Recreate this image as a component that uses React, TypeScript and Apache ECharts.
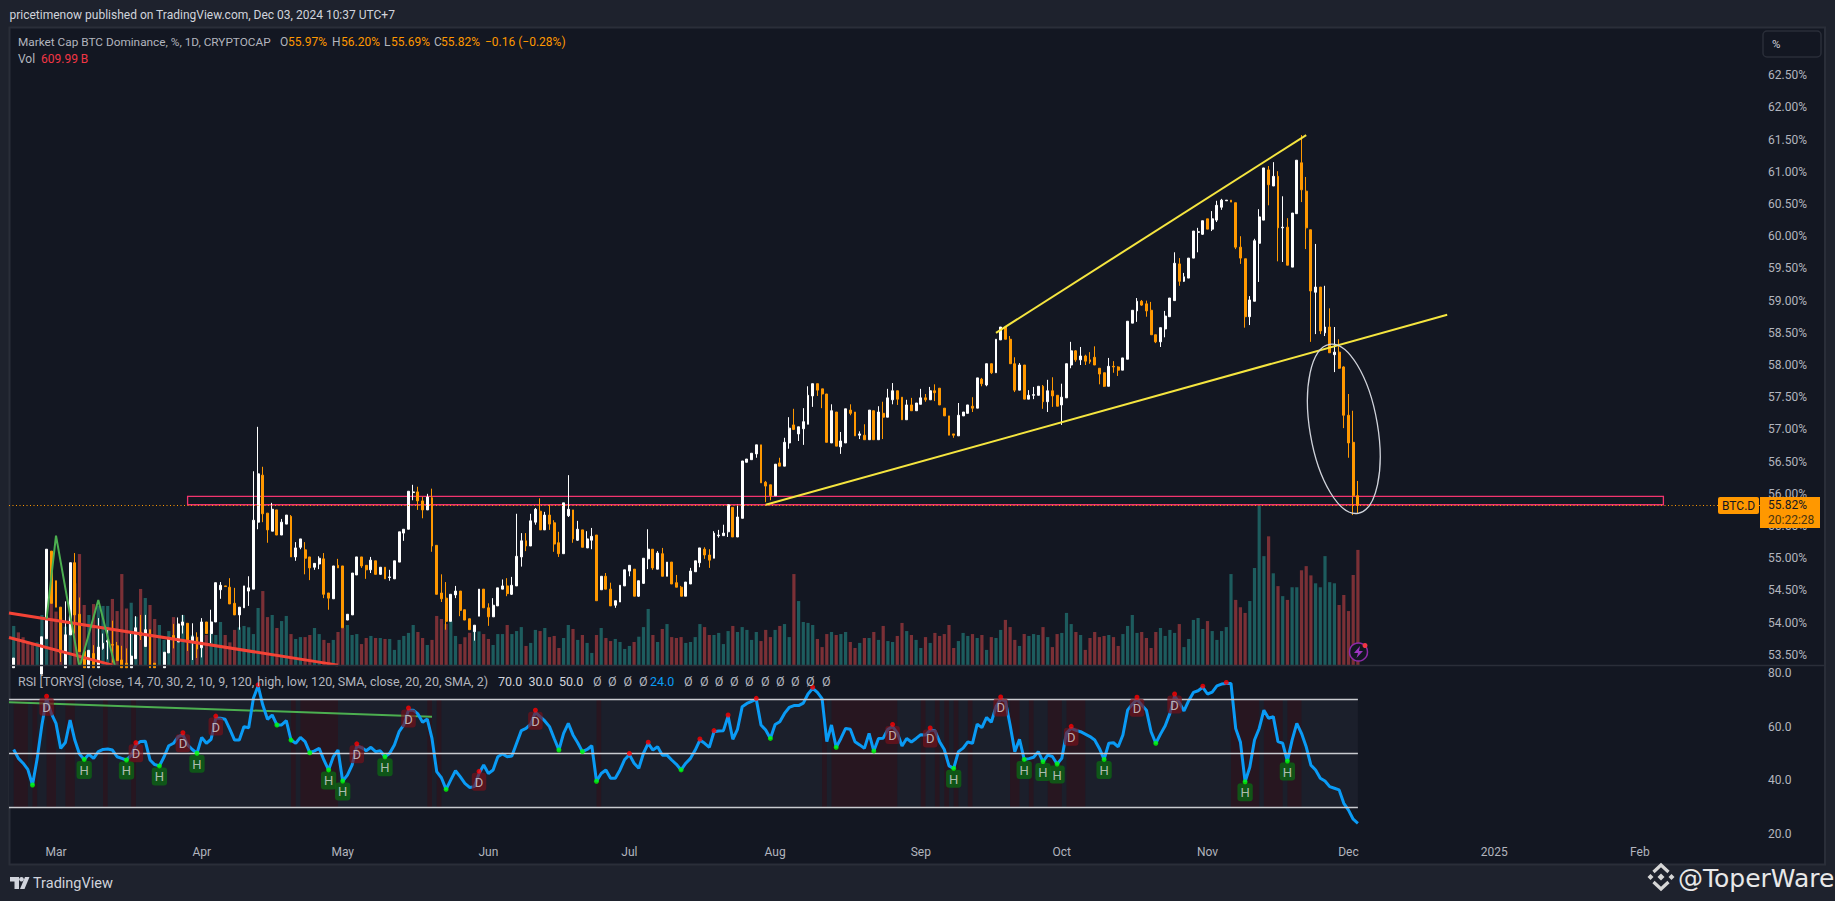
import React, { useEffect, useRef } from "react";
import * as echarts from "echarts";

// ---- day offsets are counted from 2024-03-01 ----
const N = null;
const firstDay = -10;
const lastAxisDay = 363;
const firstDataDay = -9;

const monthLabels: Record<string, string> = {
  "2024-03-01": "Mar", "2024-04-01": "Apr", "2024-05-01": "May", "2024-06-01": "Jun",
  "2024-07-01": "Jul", "2024-08-01": "Aug", "2024-09-01": "Sep", "2024-10-01": "Oct",
  "2024-11-01": "Nov", "2024-12-01": "Dec", "2025-01-01": "2025", "2025-02-01": "Feb",
};
const priceTicks = [53.5, 54, 54.5, 55, 55.5, 56, 56.5, 57, 57.5, 58, 58.5, 59, 59.5, 60, 60.5, 61, 61.5, 62, 62.5];
const rsiTicks = [20, 40, 60, 80];

// starts at day -9
const opens = [53.3, N, N, N, N, N, 53.2, 53.75, 55.11,
  54.65, 54.24, 53.3, 53.81, 54.93, 54.13, 53.55, 53.3, 53.52, 53.3,
  53.6, 53.7, 53.66, 53.64, 53.42, 53.37, 53.3, 53.44, 53.85, 53.63,
  53.89, 53.37, N, 53.3, 53.53, 53.8, 53.7, 53.96, 53.99, 53.72,
  53.77, 53.61, 54.01, 53.83, 54.01, 54.51, 54.57, 54.55, 54.30, 54.12,
  54.23, 54.49, 54.52, 55.56, 56.29, 55.70, 55.42, 55.75, 55.36, 55.53,
  55.65, 55.02, 55.17, 55.13, 55.02, 54.86, 54.91, 54.99, 54.46, 54.37,
  54.89, 54.88, 54.04, 54.12, 54.74, 55.02, 54.89, 54.82, 54.96, 54.75,
  54.86, 54.70, 54.68, 54.94, 55.39, 55.45, 56.02, 56.03, 55.89, 55.75,
  55.94, 55.20, 54.46, 54.38, 54.02, 54.43, 54.49, 54.20, 54.06, 53.86,
  54.10, 54.52, 54.23, 54.09, 54.26, 54.52, 54.57, 54.44, 54.57, 55.02,
  55.27, 55.19, 55.56, 55.73, 55.44, 55.67, 55.55, 55.24, 55.07, 55.66,
  55.75, 55.28, 55.44, 55.16, 55.28, 55.36, 54.51, 54.72, 54.52, 54.27,
  54.32, 54.57, 54.80, 54.83, 54.41, 54.61, 54.99, 55.14, 54.83, 55.07,
  54.72, 54.94, 54.62, 54.55, 54.41, 54.60, 54.79, 54.93, 55.14, 55.05,
  55.0, 55.35, 55.35, 55.41, 55.79, 55.33, 55.62, 56.49, 56.53, 56.62,
  56.76, 56.18, 56.14, 55.97, 56.48, 56.43, 56.79, 57.07, 56.93, 57.01,
  57.08, 57.52, 57.71, 57.63, 57.55, 56.79, 57.27, 56.73, 56.79, 57.30,
  57.27, 56.91, 56.91, 56.84, 57.29, 56.84, 57.25, 57.19, 57.46, 57.60,
  57.50, 57.15, 57.38, 57.29, 57.39, 57.49, 57.46, 57.60, 57.64, 57.33,
  57.21, 56.93, 56.90, 57.21, 57.25, 57.36, 57.33, 57.78, 57.69, 58.02,
  57.88, 58.39, 58.59, 58.40, 58.02, 57.61, 58.0, 57.47, 57.53, 57.53,
  57.67, 57.43, 57.60, 57.53, 57.38, 57.49, 58.0, 58.22, 58.08, 58.14,
  58.08, 58.12, 57.95, 57.88, 57.67, 57.98, 57.97, 57.92, 58.09, 58.65,
  58.84, 58.99, 58.95, 58.85, 58.47, 58.36, 58.56, 58.75, 59.0, 59.57,
  59.30, 59.35, 59.66, 60.06, 60.03, 60.27, 60.11, 60.25, 60.45, 60.55,
  60.56, 60.52, 59.83, 59.65, 58.75, 58.99, 59.89, 60.25, 61.03, 60.78,
  60.93, 60.13, 60.14, 59.52, 60.35, 61.14, 60.70, 60.10, 59.13, 59.21,
  58.50, 58.59, 58.16, 58.20, 57.97, 57.22, 56.80, 55.97];

const closes = [53.45, N, N, N, N, N, 53.78, 55.14, 54.30,
  54.24, 53.53, 53.81, 54.93, 54.12, 53.55, 53.3, 53.57, 53.3, 53.62,
  53.68, 53.72, 53.65, 53.41, 53.3, 53.3, 53.48, 53.92, 53.8, 53.89,
  53.3, 53.3, N, 53.54, 53.77, 53.75, 53.98, 54.01, 53.70, 53.78,
  53.59, 54.01, 53.83, 54.01, 54.62, 54.58, 54.56, 54.29, 54.12, 54.24,
  54.57, 54.54, 55.59, 56.31, 55.69, 55.44, 55.76, 55.36, 55.56, 55.67,
  55.02, 55.16, 55.30, 55.0, 54.85, 54.92, 55.0, 54.44, 54.38, 54.88,
  54.85, 53.92, 54.13, 54.77, 55.02, 54.88, 54.82, 54.97, 54.75, 54.86,
  54.68, 54.71, 54.96, 55.41, 55.45, 56.04, 56.03, 55.89, 55.75, 55.95,
  55.19, 54.44, 54.37, 54.02, 54.44, 54.49, 54.19, 54.04, 53.89, 53.96,
  54.52, 54.23, 54.09, 54.27, 54.54, 54.57, 54.45, 54.58, 55.03, 55.27,
  55.19, 55.58, 55.76, 55.44, 55.67, 55.53, 55.22, 55.07, 55.86, 55.76,
  55.30, 55.45, 55.17, 55.30, 55.34, 54.34, 54.72, 54.52, 54.26, 54.34,
  54.58, 54.82, 54.89, 54.41, 54.65, 55.0, 55.14, 54.85, 55.08, 54.72,
  54.94, 54.60, 54.55, 54.41, 54.63, 54.80, 54.96, 55.16, 55.05, 54.97,
  55.39, 55.36, 55.39, 55.83, 55.33, 55.64, 56.51, 56.54, 56.63, 56.76,
  56.17, 56.12, 55.97, 56.46, 56.43, 56.80, 57.02, 57.0, 57.04, 57.12,
  57.53, 57.71, 57.61, 57.55, 56.80, 57.29, 56.74, 56.82, 57.32, 57.25,
  56.90, 56.93, 56.84, 57.30, 56.84, 57.27, 57.19, 57.49, 57.60, 57.47,
  57.15, 57.38, 57.29, 57.41, 57.49, 57.46, 57.60, 57.57, 57.38, 57.21,
  56.91, 56.91, 57.22, 57.27, 57.38, 57.33, 57.80, 57.71, 58.02, 57.88,
  58.40, 58.59, 58.40, 58.02, 57.61, 58.0, 57.47, 57.53, 57.54, 57.67,
  57.43, 57.60, 57.52, 57.36, 57.50, 58.02, 58.22, 58.08, 58.14, 58.06,
  58.05, 58.0, 57.86, 57.67, 57.98, 57.97, 57.92, 58.11, 58.68, 58.85,
  58.99, 58.93, 58.84, 58.47, 58.36, 58.58, 58.76, 59.04, 59.58, 59.30,
  59.37, 59.66, 60.08, 60.07, 60.24, 60.11, 60.27, 60.48, 60.56, 60.56,
  60.53, 59.83, 59.66, 58.75, 59.01, 59.93, 60.30, 61.06, 60.80, 60.93,
  60.13, 60.14, 59.55, 60.36, 61.18, 60.72, 60.13, 59.15, 59.21, 58.53,
  58.59, 58.19, 58.20, 57.95, 57.22, 56.79, 55.97, 55.82];

// N = no wick above the body
const highs = [N, N, N, N, N, N, N, N, N,
  N, N, 54.33, N, 55.08, 54.39, N, N, 53.65, 54.07,
  53.83, 53.91, 54.03, 53.70, 53.64, 53.6, 53.83, 54.10, 54.12, 54.12,
  N, N, N, N, N, 53.98, 54.08, 54.12, N, 53.99,
  53.85, 54.07, N, 54.20, N, 54.63, N, 54.69, 54.54, N,
  N, 54.72, 56.35, 57.04, 56.42, N, 55.86, N, 55.61, N,
  55.67, 55.25, N, 55.25, N, N, 55.03, 55.08, N, N,
  54.99, N, N, N, N, N, N, 55.02, N, N,
  N, 54.82, N, N, N, N, 56.14, 56.11, 55.95, 56.0,
  56.08, N, 54.75, 54.63, N, 54.57, N, N, N, N,
  N, N, 54.30, 54.38, N, 54.67, 54.69, 54.71, 55.69, 55.39,
  55.39, 55.69, 55.78, 55.93, 55.72, 55.83, 55.59, 55.41, N, 56.29,
  N, 55.58, N, 55.42, 55.47, N, N, 54.77, 54.62, N,
  N, N, N, N, N, N, 55.45, N, 55.11, 55.16,
  N, N, 54.74, 54.57, N, 54.85, N, N, 55.17, 55.14,
  55.42, 55.44, 55.52, N, N, 55.83, N, N, N, N,
  N, 56.20, N, N, 56.56, 56.87, 57.19, 57.32, N, 57.33,
  57.67, N, N, N, N, 57.39, N, 56.96, N, 57.39,
  N, 56.97, 57.08, N, N, 57.36, 57.43, 57.63, 57.72, N,
  N, 57.46, 57.49, N, 57.63, 57.55, 57.66, 57.70, N, N,
  N, N, 57.41, N, N, 57.50, N, 57.80, N, N,
  N, N, N, 58.45, 58.12, 58.03, N, 57.61, 57.66, N,
  57.69, 57.77, 57.81, N, 57.71, N, 58.36, 58.23, 58.28, 58.16,
  58.20, 58.29, N, N, 58.11, 58.06, 57.98, N, N, N,
  59.04, 59.01, 59.0, 58.98, N, N, 58.84, N, 59.75, 59.66,
  59.43, N, N, 60.13, N, N, 60.39, 60.55, 60.58, N,
  N, N, 60.0, N, 59.07, 59.96, 60.42, N, 61.09, 61.15,
  61.01, 60.62, 60.28, N, N, 61.57, 60.92, N, 59.88, N,
  59.23, 58.88, 58.59, 58.40, 57.98, 57.55, 57.29, 56.20];

// N = no wick below the body
const lows = [N, N, N, N, N, N, N, N, N,
  N, 53.39, N, N, 53.83, N, N, N, N, N,
  53.58, 53.43, 53.38, N, N, N, N, N, 53.73, N,
  N, N, N, N, N, 53.6, N, 53.83, 53.56, 53.42,
  53.45, 53.46, N, 53.68, N, 54.37, N, N, N, 53.89,
  N, 54.26, N, 55.45, 55.56, 55.24, N, N, N, N,
  N, 54.96, 55.14, 54.75, 54.66, 54.82, 54.83, 54.38, 54.2, N,
  N, N, N, N, N, 54.85, 54.68, 54.77, N, 54.74,
  N, 54.65, N, N, 55.27, N, 55.90, 55.75, 55.62, N,
  55.10, N, 54.32, 53.89, N, 54.38, 54.10, N, N, 53.72,
  N, N, 53.95, N, N, N, 54.41, 54.43, N, 54.87,
  55.11, N, 55.52, N, N, 55.44, 55.10, 55.02, N, 55.64,
  55.24, 55.27, N, N, 55.14, N, N, N, N, 54.23,
  N, N, 54.72, N, 54.40, 54.60, 54.83, 54.82, N, N,
  N, N, N, N, N, N, N, 54.86, 54.99, 54.85,
  N, 55.32, N, 55.33, N, N, N, N, N, 56.56,
  N, 55.87, 55.9, N, N, N, 56.70, 56.99, 56.82, 56.76,
  N, 57.35, 57.52, 57.33, N, N, N, 56.62, N, 57.22,
  N, 56.85, N, N, N, N, 56.85, N, 57.39, 57.38,
  N, N, N, N, N, 57.43, N, 57.44, N, N,
  N, 56.87, N, N, N, 57.27, N, 57.67, 57.67, 57.86,
  N, N, N, N, 57.58, N, N, N, 57.47, N,
  57.32, 57.27, 57.35, N, 57.07, N, 57.95, 58.05, 58.0, 58.0,
  58.02, N, 57.70, 57.66, N, 57.88, 57.83, N, N, N,
  58.67, 58.92, 58.75, N, 58.34, 58.28, 58.43, N, N, 59.23,
  59.29, N, N, 59.75, 60.02, N, 60.08, 60.22, 60.41, N,
  N, 59.80, 59.57, 58.58, 58.62, N, 59.29, N, 60.48, N,
  59.61, 59.60, N, N, N, 60.53, 59.80, 58.36, 58.48, 58.48,
  58.45, N, 57.89, 57.94, 57.02, 56.56, 55.67, 55.69];

// billions, starts at day -9
const volumes = [207, 173, 147, 124, 106, 120, 265, 138, 336,
  283, 250, 203, 256, 433, 588, 318, 265, 323, 313,
  313, 313, 350, 286, 482, 300, 330, 256, 403, 355,
  318, 244, 212, 133, 180, 254, 212, 265, 150, 159,
  150, 194, 159, 186, 159, 228, 159, 120, 186, 200,
  207, 200, 164, 302, 392, 254, 265, 196, 233, 260,
  164, 138, 148, 148, 159, 196, 164, 133, 117, 133,
  175, 196, 212, 159, 164, 111, 143, 154, 143, 143,
  138, 138, 80, 133, 154, 170, 212, 175, 143, 106,
  133, 260, 244, 217, 233, 154, 111, 147, 171, 193,
  178, 164, 138, 106, 164, 164, 212, 164, 180, 201,
  101, 117, 186, 180, 196, 148, 154, 90, 143, 212,
  191, 133, 159, 117, 64, 159, 196, 143, 127, 138,
  122, 85, 101, 122, 150, 201, 297, 159, 122, 191,
  217, 148, 143, 148, 117, 122, 148, 217, 201, 159,
  159, 170, 111, 180, 207, 175, 201, 186, 133, 175,
  127, 186, 148, 186, 207, 217, 148, 482, 339, 228,
  223, 212, 138, 95, 164, 175, 159, 164, 175, 122,
  90, 117, 143, 143, 175, 133, 207, 127, 122, 154,
  223, 180, 159, 133, 90, 148, 117, 170, 154, 164,
  212, 90, 127, 170, 154, 164, 143, 159, 80, 148,
  143, 186, 239, 201, 133, 101, 164, 154, 164, 159,
  201, 148, 95, 164, 170, 276, 217, 175, 159, 80,
  143, 175, 148, 154, 159, 148, 101, 164, 207, 265,
  170, 175, 143, 90, 175, 196, 154, 186, 170, 217,
  95, 138, 239, 249, 191, 233, 180, 133, 180, 201,
  482, 345, 306, 276, 339, 514, 843, 577, 682, 486,
  418, 365, 345, 412, 412, 502, 524, 475, 433, 412,
  577, 439, 433, 318, 371, 286, 477, 610];
const volumeColourExceptions = [250, 269, 271];
const earlyDownVolumeDays = [-8, -7, -6, -5];

// starts at day -9
const rsi = [51.5, 48.2, 46.4, 44.1, 38.3, 48.2, 60.6, 70.5, 64.9,
  61.2, 51.9, 54.1, 62.4, 55.0, 49.8, 47.8, 49.7, 48.2, 50.7,
  51.5, 51.7, 51.3, 48.8, 48.2, 47.6, 49.4, 53.2, 54.5, 54.6,
  47.6, 45.9, 45.4, 48.8, 52.9, 53.8, 56.3, 56.9, 53.2, 51.5,
  50.1, 56.0, 53.8, 55.3, 63.1, 63.1, 62.7, 59.0, 55.0, 55.0,
  60.0, 59.6, 70.5, 75.1, 68.0, 62.7, 64.3, 60.6, 60.6, 62.2,
  55.0, 53.8, 56.0, 54.4, 50.3, 51.0, 51.9, 47.6, 43.9, 48.8,
  51.3, 39.8, 42.0, 45.7, 52.8, 52.2, 51.0, 52.3, 50.7, 51.0,
  48.8, 50.1, 53.2, 58.1, 60.6, 66.1, 66.1, 64.7, 61.6, 62.8,
  55.6, 43.3, 41.0, 36.7, 40.2, 43.6, 41.4, 38.9, 37.4, 37.7,
  42.6, 45.7, 42.6, 43.9, 48.8, 49.8, 48.8, 49.1, 53.8, 58.5,
  59.3, 60.9, 65.3, 63.7, 62.1, 60.0, 55.6, 51.3, 57.5, 61.2,
  56.9, 54.0, 50.7, 51.5, 52.9, 39.7, 42.6, 43.9, 40.8, 40.8,
  43.9, 47.8, 49.6, 46.4, 44.5, 50.1, 53.8, 51.3, 52.5, 49.4,
  49.4, 47.6, 46.0, 43.9, 46.4, 48.2, 51.3, 55.0, 53.8, 52.3,
  58.1, 58.4, 58.5, 63.9, 55.3, 59.0, 67.4, 68.6, 69.4, 70.1,
  60.6, 58.7, 55.6, 60.8, 61.8, 64.9, 67.1, 67.8, 67.8, 68.7,
  72.1, 74.2, 72.7, 70.4, 54.4, 60.6, 52.3, 55.6, 59.3, 59.0,
  54.4, 53.2, 51.9, 57.5, 50.9, 55.6, 55.7, 59.0, 60.0, 57.7,
  52.8, 55.6, 54.3, 55.6, 57.0, 56.9, 58.7, 58.5, 54.4, 51.5,
  45.4, 44.5, 50.7, 52.0, 54.3, 53.8, 60.9, 59.6, 63.4, 61.6,
  67.4, 70.2, 69.5, 60.6, 50.7, 55.3, 47.8, 48.1, 48.6, 50.7,
  47.0, 49.4, 48.9, 46.1, 48.2, 57.7, 59.3, 58.6, 58.1, 57.2,
  56.3, 55.0, 51.9, 47.8, 53.8, 54.0, 52.5, 56.9, 66.1, 68.3,
  70.1, 68.0, 66.1, 58.1, 53.8, 57.2, 60.3, 64.9, 71.3, 68.9,
  65.8, 69.6, 72.7, 73.3, 74.6, 72.1, 72.8, 75.1, 75.8, 76.0,
  76.0, 59.3, 54.3, 39.5, 44.9, 55.0, 59.3, 66.1, 63.1, 63.7,
  54.4, 53.8, 47.2, 55.0, 61.2, 57.5, 52.5, 45.7, 43.9, 40.8,
  39.8, 37.7, 37.1, 36.5, 31.5, 29.0, 25.6, 24.1];

const rsiPeakDaysLabelled = [-2, 17, 27, 34, 64, 75, 90, 102, 178, 186, 201, 216, 230, 238];
const rsiPeakDaysPlain = [43, 122, 126, 137, 140, 143, 149, 161, 244, 249];
const rsiTroughDaysLabelled = [6, 15, 22, 30, 58, 61, 70, 191, 206, 210, 213, 223, 253, 262];
const rsiTroughDaysPlain = [-5, 47, 50, 54, 83, 107, 112, 115, 133, 152, 166, 174, 234];
const rsiShadedDays = [[-9, -6], [-5, -4], [-2, 0], [2, 4], [10, 11], [16, 17], [50, 51], [52, 60], [79, 80], [81, 82],
  [115, 116], [163, 164], [165, 179], [184, 185], [187, 188], [189, 190], [191, 192], [194, 195], [203, 205],
  [207, 208], [211, 214], [215, 219], [250, 256], [257, 261], [262, 265]];
const rsiLevels = [70, 50, 30];
const lastPrice = 55.82;

// drawn trend lines: [day, value]
const wedgeUpper = [[200, 58.5], [266, 61.57]];
const wedgeLower = [[151, 55.83], [296, 58.78]];
const redLineA = [[-10, 54.15], [60, 53.34]];
const redLineB = [[-10, 53.77], [12, 53.34]];
const greenZigzag = [[-2, 54.06], [0, 55.35], [5, 53.3], [9, 54.35], [13, 53.2]];
const rsiTrend = [[-10, 69.0], [80, 63.7]];
const zoneDays = [28, 342];
const zonePrices = [55.96, 55.83];
const ellipseCentre = [274, 57.01];

const rsiNullGlyphs1 = [593, 608, 623.6, 639];
const rsiNullGlyphs2 = [684, 700, 714.7, 730, 745, 761, 776, 791, 806, 822];

const FONT = "Roboto, sans-serif";
const dateFor = (d: number) => new Date(Date.UTC(2024, 2, 1 + d)).toISOString().slice(0, 10);
const days: number[] = [];
for (let d = firstDay; d <= lastAxisDay; d++) days.push(d);
const categories = days.map(dateFor);
const at = (list: any[], d: number) => list[d - firstDataDay];
const pairs = (list: number[][]) => list.map(([d, v]) => [dateFor(d), v]);
const UP_VOL = "#1d5c5e";
const DOWN_VOL = "#7b3036";

const candleData = days.filter((d) => d <= 277).map((d) => {
  const o = at(opens, d), c = at(closes, d);
  if (o == null || c == null) return ["-", "-", "-", "-"];
  const hi = at(highs, d), lo = at(lows, d);
  return [o, c, lo == null ? Math.min(o, c) : Math.min(lo, o, c), hi == null ? Math.max(o, c) : Math.max(hi, o, c)];
});
const volumeData = days.filter((d) => d <= 277).map((d) => {
  const v = at(volumes, d);
  if (v == null) return "-";
  const o = at(opens, d), c = at(closes, d);
  let up = o == null ? !earlyDownVolumeDays.includes(d) : c >= o;
  if (volumeColourExceptions.includes(d)) up = !up;
  return { value: v, itemStyle: { color: up ? UP_VOL : DOWN_VOL } };
});
const rsiData = days.filter((d) => d <= 277).map((d) => { const v = at(rsi, d); return v == null ? "-" : v; });

const labelBox = (text: string, bg: string) => ({
  show: true, formatter: text, position: "bottom", distance: 1, color: "#d8d8d8", fontFamily: FONT, fontSize: 13,
  backgroundColor: bg, borderRadius: 3, padding: [2, 3, 1, 3], lineHeight: 15,
});

export default function App() {
  const ref = useRef<HTMLDivElement>(null);
  useEffect(() => {
    const chart = echarts.init(ref.current!, null, { renderer: "svg" });
    const txt = (text: string, x: number, y: number, fill: string, fontSize = 12, extra: any = {}) => ({
      type: "text", x, y, z: 300, silent: true,
      style: { text, fill, fontSize, fontFamily: FONT, verticalAlign: "middle", ...extra },
    });
    const orange = "#ff9800";
    const grey = "#b2b5be";
    const binanceDiamond = (cx: number, cy: number, r: number) => ({
      type: "polygon", z: 300, silent: true,
      shape: { points: [[cx, cy - r], [cx + r, cy], [cx, cy + r], [cx - r, cy]] }, style: { fill: "#d6d6d6" },
    });
    const binanceChevron = (cx: number, cy: number, dir: number) => ({
      type: "polyline", z: 300, silent: true,
      shape: { points: [[cx - 7.5, cy + dir * 5], [cx, cy + dir * 12], [cx + 7.5, cy + dir * 5]] },
      style: { fill: "none", stroke: "#d6d6d6", lineWidth: 3.2 },
    });
    const option: any = {
      animation: false,
      backgroundColor: "#1e222d",
      grid: [
        { left: 9, width: 1753.1, top: 28, height: 637 },
        { left: 9, width: 1753.1, top: 666, height: 171 },
      ],
      xAxis: [
        { type: "category", gridIndex: 0, data: categories, boundaryGap: false, show: false },
        {
          type: "category", gridIndex: 1, data: categories, boundaryGap: false,
          axisLine: { show: false }, axisTick: { show: false }, splitLine: { show: false },
          axisLabel: {
            color: grey, fontFamily: FONT, fontSize: 12, margin: 9, hideOverlap: false,
            interval: (_i: number, v: string) => v in monthLabels,
            formatter: (v: string) => monthLabels[v] ?? "",
          },
        },
      ],
      yAxis: [
        {
          type: "value", gridIndex: 0, position: "right", min: 53.342, max: 63.233, scale: true,
          axisLine: { show: false }, axisTick: { show: false }, splitLine: { show: false },
          axisLabel: {
            color: grey, fontFamily: FONT, fontSize: 12, margin: 6, customValues: priceTicks,
            formatter: (v: number) => v.toFixed(2) + "%",
          },
        },
        { type: "value", gridIndex: 0, min: 0, max: 3376, show: false },
        {
          type: "value", gridIndex: 1, position: "right", min: 19, max: 82.5,
          axisLine: { show: false }, axisTick: { show: false }, splitLine: { show: false },
          axisLabel: {
            color: grey, fontFamily: FONT, fontSize: 12, margin: 6, customValues: rsiTicks,
            formatter: (v: number) => v.toFixed(1),
          },
        },
      ],
      series: [
        {
          name: "Volume", type: "bar", xAxisIndex: 0, yAxisIndex: 1, data: volumeData, barWidth: 3.2, z: 1, silent: true,
        },
        {
          name: "BTC.D", type: "candlestick", xAxisIndex: 0, yAxisIndex: 0, data: candleData, barWidth: 2.4, z: 3, silent: true,
          clip: true,
          itemStyle: { color: "#ffffff", color0: orange, borderColor: "#ffffff", borderColor0: orange, borderWidth: 1 },
        },
        {
          name: "Zone", type: "line", xAxisIndex: 0, yAxisIndex: 0, data: [], z: 6, silent: true, symbol: "none",
          markArea: {
            silent: true,
            itemStyle: { color: "rgba(0,0,0,0)", borderColor: "#f2356f", borderWidth: 1.3 },
            data: [[{ xAxis: dateFor(zoneDays[0]), yAxis: zonePrices[0] }, { xAxis: dateFor(zoneDays[1]), yAxis: zonePrices[1] }]],
          },
          markLine: {
            silent: true, symbol: "none", label: { show: false },
            lineStyle: { type: [1, 2.5], color: orange, width: 1 },
            data: [{ yAxis: lastPrice }],
          },
        },
        ...[[wedgeUpper, "#f5e53f", 2], [wedgeLower, "#f5e53f", 2], [redLineA, "#f44336", 3], [redLineB, "#f44336", 3], [greenZigzag, "#4caf50", 2]].map(
          ([d, color, width]: any, i) => ({
            name: "Drawing " + i, type: "line", xAxisIndex: 0, yAxisIndex: 0, data: pairs(d), symbol: "none", z: 7, silent: true,
            clip: true, lineStyle: { color, width },
          })
        ),
        {
          name: "Ellipse", type: "custom", xAxisIndex: 0, yAxisIndex: 0, z: 8, silent: true,
          data: [[dateFor(ellipseCentre[0]), ellipseCentre[1]]],
          encode: { x: 0, y: 1 },
          renderItem: (_p: any, api: any) => {
            const [x, y] = api.coord([api.value(0), api.value(1)]);
            return {
              type: "ellipse", x, y, rotation: 0.1676,
              shape: { cx: 0, cy: 0, rx: 33.9, ry: 85.7 },
              style: { fill: "none", stroke: "#d1d4dc", lineWidth: 1.3 },
            };
          },
        },
        {
          name: "RSI band", type: "line", xAxisIndex: 1, yAxisIndex: 2, data: [], z: 1, silent: true, symbol: "none",
          markArea: {
            silent: true, itemStyle: { color: "#1b1f2b" },
            data: [[{ xAxis: dateFor(firstDay), yAxis: rsiLevels[0] }, { xAxis: dateFor(277), yAxis: rsiLevels[2] }]],
          },
        },
        {
          name: "RSI shade", type: "line", xAxisIndex: 1, yAxisIndex: 2, data: [], z: 2, silent: true, symbol: "none",
          markArea: {
            silent: true, itemStyle: { color: "#271620" },
            data: rsiShadedDays.map(([a, b]) => [{ xAxis: dateFor(a), yAxis: rsiLevels[0] }, { xAxis: dateFor(b), yAxis: rsiLevels[2] }]),
          },
          markLine: {
            silent: true, symbol: "none", label: { show: false }, lineStyle: { type: "solid", color: "#c9cbd0", width: 1.3 },
            data: rsiLevels.map((l) => [{ xAxis: dateFor(firstDay), yAxis: l }, { xAxis: dateFor(277), yAxis: l }]),
          },
        },
        {
          name: "RSI trend", type: "line", xAxisIndex: 1, yAxisIndex: 2, data: pairs(rsiTrend), symbol: "none", z: 3, silent: true,
          lineStyle: { color: "#4caf50", width: 2 },
        },
        {
          name: "Peak labels", type: "scatter", xAxisIndex: 1, yAxisIndex: 2, z: 6, silent: true, symbolSize: 1,
          itemStyle: { color: "rgba(0,0,0,0)" },
          label: labelBox("D", "rgba(118,16,26,0.85)"),
          data: rsiPeakDaysLabelled.map((d) => [dateFor(d), at(rsi, d) + 0.8]),
        },
        {
          name: "Trough labels", type: "scatter", xAxisIndex: 1, yAxisIndex: 2, z: 6, silent: true, symbolSize: 1,
          itemStyle: { color: "rgba(0,0,0,0)" },
          label: labelBox("H", "#0c6414"),
          data: rsiTroughDaysLabelled.map((d) => [dateFor(d), at(rsi, d)]),
        },
        {
          name: "RSI", type: "line", xAxisIndex: 1, yAxisIndex: 2, data: rsiData, symbol: "none", z: 4, silent: true,
          lineStyle: { color: "#0a9bf5", width: 3 }, connectNulls: false,
        },
        {
          name: "Peaks", type: "scatter", xAxisIndex: 1, yAxisIndex: 2, z: 7, silent: true, symbolSize: 5,
          itemStyle: { color: "#ff0000" },
          data: rsiPeakDaysPlain.map((d) => [dateFor(d), at(rsi, d) + 0.4]).concat(
            rsiPeakDaysLabelled.map((d) => [dateFor(d), at(rsi, d) + 0.8])
          ),
        },
        {
          name: "Troughs", type: "scatter", xAxisIndex: 1, yAxisIndex: 2, z: 7, silent: true, symbolSize: 5,
          itemStyle: { color: "#00ff00" },
          data: rsiTroughDaysPlain.map((d) => [dateFor(d), at(rsi, d)]).concat(
            rsiTroughDaysLabelled.map((d) => [dateFor(d), at(rsi, d)])
          ),
        },
      ],
      graphic: {
        elements: [
          { type: "rect", z: -10, silent: true, shape: { x: 9.5, y: 27.5, width: 1815.5, height: 837 }, style: { fill: "#131722", stroke: "#2a2e39", lineWidth: 2 } },
          { type: "line", z: 300, silent: true, shape: { x1: 9, y1: 665.5, x2: 1825, y2: 665.5 }, style: { stroke: "#2a2e39", lineWidth: 1.5 } },
          txt("pricetimenow published on TradingView.com, Dec 03, 2024 10:37 UTC+7", 9.5, 15, "#d1d4dc", 12),
          txt("Market Cap BTC Dominance, %, 1D, CRYPTOCAP", 18, 42, grey, 11.8),
          txt("O", 280, 42, grey, 12), txt("55.97%", 288, 42, orange, 12),
          txt("H", 332, 42, grey, 12), txt("56.20%", 341, 42, orange, 12),
          txt("L", 384, 42, grey, 12), txt("55.69%", 391, 42, orange, 12),
          txt("C", 434, 42, grey, 12), txt("55.82%", 441, 42, orange, 12),
          txt("−0.16 (−0.28%)", 485, 42, orange, 12),
          txt("Vol", 18, 59, grey, 12), txt("609.99 B", 41, 59, "#f23645", 12),
          { type: "rect", z: 300, silent: true, shape: { x: 1763, y: 31, width: 58, height: 26, r: 4 }, style: { fill: "#131722", stroke: "#2a2e39", lineWidth: 1.5 } },
          txt("%", 1772, 44, "#d1d4dc", 11.5),
          { type: "rect", z: 300, silent: true, shape: { x: 1718, y: 497, width: 41, height: 17, r: 2 }, style: { fill: orange } },
          txt("BTC.D", 1722, 505.5, "#131722", 12),
          { type: "rect", z: 300, silent: true, shape: { x: 1760, y: 497, width: 60, height: 31 }, style: { fill: orange } },
          txt("55.82%", 1768, 505, "#131722", 12),
          txt("20:22:28", 1768, 520, "#4a3410", 12),
          txt("RSI [TORYS] (close, 14, 70, 30, 2, 10, 9, 120, high, low, 120, SMA, close, 20, 20, SMA, 2)", 18, 681, grey, 12.5),
          txt("70.0", 498, 681, "#d1d4dc", 12.5), txt("30.0", 528.5, 681, "#d1d4dc", 12.5), txt("50.0", 559, 681, "#d1d4dc", 12.5),
          ...rsiNullGlyphs1.map((x) => txt("Ø", x, 681, grey, 12.5)),
          txt("24.0", 650, 681, "#0a9bf5", 12.5),
          ...rsiNullGlyphs2.map((x) => txt("Ø", x, 681, grey, 12.5)),
          // lightning badge
          { type: "circle", z: 300, silent: true, shape: { cx: 1358.5, cy: 652, r: 9 }, style: { fill: "#131722", stroke: "#8e2aa8", lineWidth: 1.5 } },
          { type: "polygon", z: 301, silent: true, shape: { points: [[1360, 646], [1354, 653], [1358, 653], [1356.5, 658], [1363, 651], [1359, 651]] }, style: { fill: "#9c34c0" } },
          { type: "circle", z: 302, silent: true, shape: { cx: 1365, cy: 645.5, r: 2.5 }, style: { fill: "#f23645" } },
          // TradingView mark
          { type: "polygon", z: 300, silent: true, shape: { points: [[10, 877], [19, 877], [19, 889], [14.5, 889], [14.5, 881.5], [10, 881.5]] }, style: { fill: "#d1d4dc" } },
          { type: "circle", z: 300, silent: true, shape: { cx: 21.5, cy: 879.3, r: 2.3 }, style: { fill: "#d1d4dc" } },
          { type: "polygon", z: 300, silent: true, shape: { points: [[25, 877], [29.5, 877], [24.5, 889], [20, 889]] }, style: { fill: "#d1d4dc" } },
          txt("TradingView", 33, 883, "#d1d4dc", 14.5),
          // watermark
          binanceDiamond(1661, 877, 3.5),
          binanceChevron(1661, 877, -1),
          binanceChevron(1661, 877, 1),
          binanceDiamond(1650.5, 877, 3),
          binanceDiamond(1671.5, 877, 3),
          txt("@ToperWare", 1678, 878, "#e8e8e8", 25, { fontFamily: "'DejaVu Sans', sans-serif" }),
        ],
      },
    };
    chart.setOption(option);
    return () => chart.dispose();
  }, []);
  return <div ref={ref} style={{ position: "absolute", left: 0, top: 0, width: 1835, height: 901 }} />;
}
